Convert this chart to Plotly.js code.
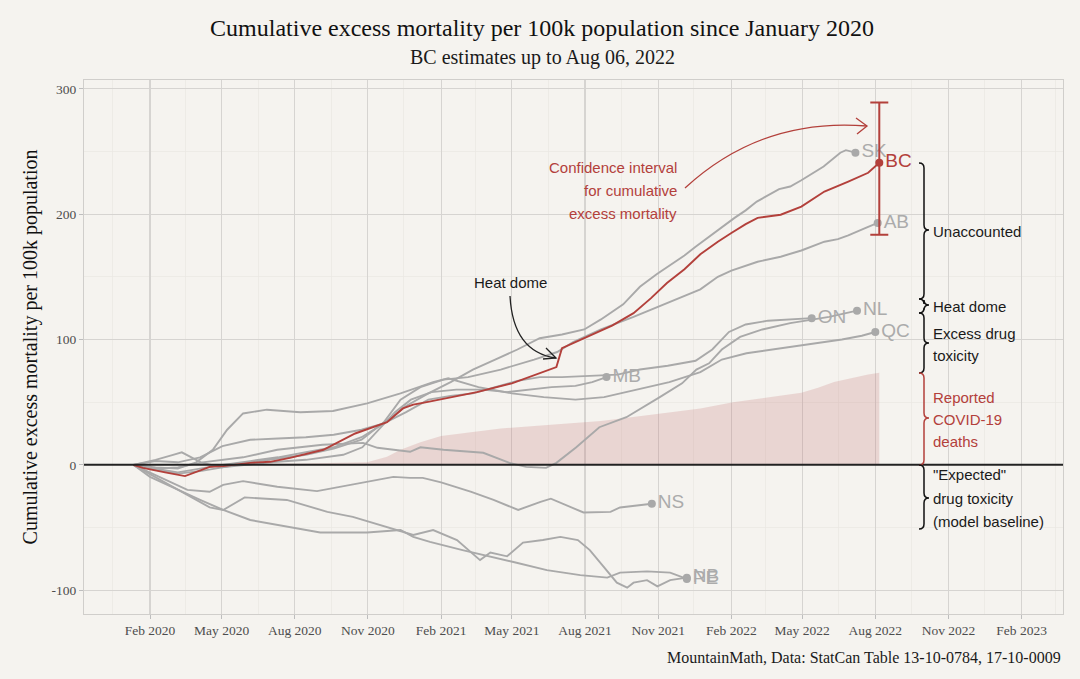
<!DOCTYPE html>
<html><head><meta charset="utf-8">
<script src="https://cdn.plot.ly/plotly-3.0.1.min.js"></script>
<style>html,body{margin:0;padding:0;background:#F5F3EF;} #chart{width:1080px;height:679px;}</style>
</head><body><div id="chart"></div>
<script>
// ---------------- DATA ----------------
const bcDates = ['2020-01-11','2020-01-23','2020-02-20','2020-03-16','2020-04-16','2020-05-03','2020-06-06','2020-07-01','2020-07-26','2020-09-06','2020-10-16','2020-11-25','2020-12-15','2020-12-28','2021-01-14','2021-02-12','2021-03-18','2021-05-01','2021-06-05','2021-06-22','2021-06-26','2021-07-03','2021-07-17','2021-08-11','2021-09-04','2021-10-01','2021-10-23','2021-11-12','2021-12-04','2021-12-24','2022-01-15','2022-02-01','2022-02-19','2022-03-06','2022-04-04','2022-04-30','2022-05-29','2022-06-28','2022-07-23','2022-08-06'];
const bcValues = [0,-2.4,-6,-9,-1.6,-1,1.6,2.4,5.6,12,25,34,45,48,50,53.5,58,65,73,76.6,78,93,97,104,111,121,133,145,156,168,178,185,192,197,199.5,206,218,226,233,241];
const bcCI = [183.5, 289];

const covidDates = ['2020-01-11','2020-03-15','2020-05-15','2020-08-08','2020-10-31','2020-11-25','2020-12-12','2021-01-06','2021-02-01','2021-03-07','2021-04-17','2021-06-19','2021-08-21','2021-10-23','2021-12-24','2022-02-03','2022-03-18','2022-04-30','2022-05-21','2022-06-10','2022-07-23','2022-08-06'];
const covidValues = [0,0,0.8,1,2,6.4,12,18,23,25.5,29,32,35,40,45,50,54,57.5,61.5,66,72,73.4];

const skDates = ['2020-01-11','2020-02-08','2020-03-07','2020-04-04','2020-05-02','2020-06-06','2020-07-11','2020-08-15','2020-09-19','2020-10-24','2020-11-21','2020-12-19','2021-01-16','2021-02-13','2021-03-13','2021-04-10','2021-05-08','2021-06-05','2021-07-03','2021-07-31','2021-08-21','2021-09-18','2021-10-09','2021-10-30','2021-11-20','2021-12-04','2021-12-18','2022-01-08','2022-02-05','2022-02-19','2022-03-05','2022-04-02','2022-04-16','2022-04-30','2022-05-28','2022-06-18','2022-06-25','2022-07-07'];
const skValues = [0,-3,-6,-3,0,3,6,10,14,22,33,47,57,66,76,84,92,101,104,108,116,128,142,152,161,167,174,184,197,203,210,220,222,227,238,249,251,249];

const abDates = ['2020-01-11','2020-02-08','2020-03-07','2020-04-04','2020-05-02','2020-06-06','2020-07-11','2020-08-15','2020-09-19','2020-10-24','2020-11-21','2020-12-12','2021-01-06','2021-02-04','2021-03-07','2021-04-17','2021-05-29','2021-06-27','2021-07-17','2021-08-21','2021-10-01','2021-11-12','2021-12-24','2022-01-15','2022-02-01','2022-03-06','2022-04-04','2022-04-30','2022-05-29','2022-06-15','2022-06-28','2022-07-20','2022-08-04'];
const abValues = [0,-4,-7,-5,-2,2,5,8,13,20,34,52,62,68,70,76,84,90,98,108,118,129,140,150,155,162,166,171,178,180,183,189,193];

const qcDates = ['2020-01-11','2020-02-08','2020-03-07','2020-03-30','2020-04-20','2020-05-08','2020-05-28','2020-06-27','2020-08-08','2020-09-18','2020-10-31','2020-12-12','2021-01-22','2021-02-10','2021-03-20','2021-05-01','2021-06-10','2021-07-20','2021-08-25','2021-10-05','2021-11-15','2021-12-24','2022-01-20','2022-02-20','2022-04-04','2022-05-13','2022-06-20','2022-07-15','2022-08-01'];
const qcValues = [0,-2,-3,2,12,28,41,44,42,43,49,57,66,69,62,57,54,52,54,60,66,74,84,89,93,97,100,103,106];

const onDates = ['2020-01-11','2020-02-08','2020-03-07','2020-04-04','2020-05-02','2020-06-06','2020-07-11','2020-08-15','2020-09-19','2020-10-24','2020-11-21','2020-12-19','2021-01-16','2021-02-13','2021-03-13','2021-04-10','2021-05-08','2021-06-05','2021-07-03','2021-08-07','2021-09-11','2021-10-09','2021-11-13','2021-12-18','2022-01-08','2022-01-29','2022-02-19','2022-03-19','2022-04-16','2022-05-13'];
const onValues = [0,3,2,6,15,20,21,22,24,28,33,42,52,55,57,62,67,70,70,71,72,76,79,83,92,106,112,115,116,117];

const nlDates = ['2020-01-11','2020-02-08','2020-03-07','2020-04-07','2020-05-28','2020-07-10','2020-09-05','2020-10-26','2020-11-13','2020-12-03','2020-12-24','2021-01-06','2021-02-04','2021-03-26','2021-04-28','2021-05-19','2021-06-13','2021-06-26','2021-07-21','2021-08-19','2021-09-22','2021-11-03','2021-12-01','2021-12-19','2022-01-04','2022-01-20','2022-02-12','2022-03-12','2022-04-16','2022-06-04','2022-07-09'];
const nlValues = [0,-3,-2,2,6,12,16,17.5,13.6,12,10.4,14,12,9.6,1.6,-1.6,-2.4,1.6,14,30,38,54,65,76,81,92,102,108,113,118,123];

const mbDates = ['2020-01-11','2020-02-08','2020-03-01','2020-03-12','2020-04-05','2020-05-01','2020-06-01','2020-07-01','2020-08-15','2020-10-01','2020-10-25','2020-11-15','2020-12-05','2020-12-25','2021-01-20','2021-02-20','2021-03-25','2021-04-25','2021-05-25','2021-06-20','2021-07-20','2021-08-10','2021-08-28'];
const mbValues = [0,4,8,10,2,-2,0,2,4,8,14,28,42,52,58,60,60,58,60,62,63,66,70];

const nsDates = ['2020-01-11','2020-02-14','2020-03-19','2020-04-16','2020-05-03','2020-05-28','2020-07-10','2020-08-29','2020-10-26','2020-12-03','2020-12-24','2021-01-09','2021-02-01','2021-03-11','2021-04-08','2021-05-09','2021-06-06','2021-06-19','2021-07-30','2021-09-02','2021-09-14','2021-10-24'];
const nsValues = [0,-10,-20,-21.5,-16,-13,-17.5,-21,-14,-9.6,-10.4,-10.4,-14,-21.5,-28,-36,-29.5,-27,-38,-37.5,-34,-31];

const nbDates = ['2020-01-11','2020-03-14','2020-04-16','2020-05-03','2020-05-30','2020-07-22','2020-09-11','2020-10-13','2020-11-25','2020-12-28','2021-01-22','2021-02-21','2021-03-22','2021-04-04','2021-04-25','2021-05-15','2021-06-09','2021-07-01','2021-07-23','2021-08-07','2021-08-24','2021-09-10','2021-09-23','2021-10-01','2021-10-18','2021-10-31','2021-11-16','2021-12-07'];
const nbValues = [0,-22,-34,-36,-26,-28,-37.5,-41.5,-50,-56,-52,-60,-76,-70,-73,-62,-60,-57.5,-60,-68,-81,-94,-98,-94,-92,-97,-92,-90];

const peDates = ['2020-01-11','2020-02-01','2020-04-04','2020-05-03','2020-06-06','2020-07-22','2020-09-02','2020-10-31','2020-12-12','2020-12-28','2021-01-18','2021-02-28','2021-04-04','2021-05-03','2021-06-14','2021-07-26','2021-08-29','2021-09-14','2021-10-18','2021-11-16','2021-12-07'];
const peValues = [0,-9.6,-28,-36,-44,-49.5,-54,-54,-52,-57.5,-61.5,-68,-73,-77.5,-84,-88,-90,-86,-85,-86,-91];

const greyNames = ['SK','AB','QC','ON','NL','MB','NS','NB','PE'];
const yTickVals = [-100, 0, 100, 200, 300];
const yTickText = ['-100', '0', '100', '200', '300'];

// ---------------- STYLE ----------------
const BG = '#F5F3EF';
const RED = '#B3403B';
const GREY = '#A9A9A9';
const SERIF = 'Liberation Serif, Times New Roman, serif';
const SANS = 'Liberation Sans, Arial, sans-serif';

const greySeries = {
  SK: [skDates, skValues], AB: [abDates, abValues], QC: [qcDates, qcValues],
  ON: [onDates, onValues], NL: [nlDates, nlValues], MB: [mbDates, mbValues],
  NS: [nsDates, nsValues], NB: [nbDates, nbValues], PE: [peDates, peValues]
};

const traces = [];
traces.push({x: covidDates, y: covidValues, type: 'scatter', mode: 'lines', fill: 'tozeroy',
  fillcolor: 'rgba(190,110,110,0.22)', line: {width: 0, color: 'rgba(0,0,0,0)'}, hoverinfo: 'skip', showlegend: false});
greyNames.forEach(n => {
  const [d, v] = greySeries[n];
  traces.push({x: d, y: v, type: 'scatter', mode: 'lines', line: {color: GREY, width: 1.9}, hoverinfo: 'skip', showlegend: false});
});
traces.push({x: bcDates, y: bcValues, type: 'scatter', mode: 'lines', line: {color: RED, width: 1.9}, hoverinfo: 'skip', showlegend: false});
traces.push({
  x: greyNames.map(n => greySeries[n][0][greySeries[n][0].length - 1]),
  y: greyNames.map(n => greySeries[n][1][greySeries[n][1].length - 1]),
  text: greyNames, type: 'scatter', mode: 'markers+text', textposition: 'middle right',
  marker: {color: GREY, size: 8}, textfont: {family: SANS, size: 19, color: '#ABABAB'},
  hoverinfo: 'skip', showlegend: false, cliponaxis: false
});
const bcLast = bcValues[bcValues.length - 1];
traces.push({
  x: [bcDates[bcDates.length - 1]], y: [bcLast], text: ['BC'],
  type: 'scatter', mode: 'markers+text', textposition: 'middle right',
  marker: {color: RED, size: 8}, textfont: {family: SANS, size: 19, color: RED},
  error_y: {type: 'data', symmetric: false, array: [bcCI[1] - bcLast], arrayminus: [bcLast - bcCI[0]],
            color: RED, thickness: 2, width: 9},
  hoverinfo: 'skip', showlegend: false, cliponaxis: false
});

// pixel -> paper helpers for annotations / decorations
const PL = 84, PR = 1063, PT = 80, PB = 614;
const px = x => (x - PL) / (PR - PL);
const py = y => (PB - y) / (PB - PT);
const P = (x, y) => px(x).toFixed(5) + ',' + py(y).toFixed(5);

function brace(y1, y2, ym) {
  const x0 = 919, xm = 924, xt = 929, r = 5;
  return 'M' + P(x0, y1) + ' Q' + P(xm, y1) + ' ' + P(xm, y1 + r) +
    ' L' + P(xm, ym - r) + ' Q' + P(xm, ym) + ' ' + P(xt, ym) +
    ' Q' + P(xm, ym) + ' ' + P(xm, ym + r) +
    ' L' + P(xm, y2 - r) + ' Q' + P(xm, y2) + ' ' + P(x0, y2);
}

const shapes = [
  {type: 'line', xref: 'paper', x0: 0, x1: 1, yref: 'y', y0: 0, y1: 0, line: {color: '#222', width: 2}, layer: 'above'},
  {type: 'path', xref: 'paper', yref: 'paper', path: 'M' + P(510, 296) + ' Q' + P(513, 352) + ' ' + P(556, 358), line: {color: '#222', width: 1.3}},
  {type: 'path', xref: 'paper', yref: 'paper', path: 'M' + P(543, 359) + ' L' + P(556, 358) + ' L' + P(546, 348), line: {color: '#222', width: 1.3}},
  {type: 'path', xref: 'paper', yref: 'paper', path: 'M' + P(685, 188) + ' C' + P(735, 142) + ' ' + P(795, 120) + ' ' + P(867, 126), line: {color: RED, width: 1.3}},
  {type: 'path', xref: 'paper', yref: 'paper', path: 'M' + P(856, 118) + ' L' + P(867, 126) + ' L' + P(857, 134), line: {color: RED, width: 1.3}},
  {type: 'path', xref: 'paper', yref: 'paper', path: brace(163, 299, 230), line: {color: '#111', width: 1.5}},
  {type: 'path', xref: 'paper', yref: 'paper', path: brace(299, 313, 305), line: {color: '#111', width: 1.5}},
  {type: 'path', xref: 'paper', yref: 'paper', path: brace(313, 373, 343), line: {color: '#111', width: 1.5}},
  {type: 'path', xref: 'paper', yref: 'paper', path: brace(373, 465, 418), line: {color: RED, width: 1.5}},
  {type: 'path', xref: 'paper', yref: 'paper', path: brace(465, 529, 498), line: {color: '#111', width: 1.5}}
];

function ann(x, y, text, opts) {
  return Object.assign({xref: 'paper', yref: 'paper', x: px(x), y: py(y), text: text, showarrow: false,
    xanchor: 'left', yanchor: 'middle', font: {family: SANS, size: 15, color: '#1a1a1a'}}, opts || {});
}
const annotations = [
  ann(542, 58, 'BC estimates up to Aug 06, 2022', {xanchor: 'center', font: {family: SERIF, size: 20, color: '#1a1a1a'}}),
  ann(1063, 657, 'MountainMath, Data: StatCan Table 13-10-0784, 17-10-0009', {xanchor: 'right', font: {family: SERIF, size: 16, color: '#1a1a1a'}}),
  ann(510, 282, 'Heat dome', {xanchor: 'center'}),
  ann(679, 168, 'Confidence interval', {xanchor: 'right', font: {family: SANS, size: 15, color: RED}}),
  ann(679, 191, 'for cumulative', {xanchor: 'right', font: {family: SANS, size: 15, color: RED}}),
  ann(679, 213, 'excess mortality', {xanchor: 'right', font: {family: SANS, size: 15, color: RED}}),
  ann(931, 231, 'Unaccounted'),
  ann(931, 306, 'Heat dome'),
  ann(931, 333, 'Excess drug'),
  ann(931, 355, 'toxicity'),
  ann(931, 397, 'Reported', {font: {family: SANS, size: 15, color: RED}}),
  ann(931, 419, 'COVID-19', {font: {family: SANS, size: 15, color: RED}}),
  ann(931, 441, 'deaths', {font: {family: SANS, size: 15, color: RED}}),
  ann(931, 475, '"Expected"'),
  ann(931, 498, 'drug toxicity'),
  ann(931, 521, '(model baseline)')
];

const layout = {
  width: 1080, height: 679,
  margin: {l: PL, r: 1080 - PR, t: PT, b: 679 - PB},
  paper_bgcolor: BG, plot_bgcolor: BG,
  showlegend: false,
  title: {text: 'Cumulative excess mortality per 100k population since January 2020',
          x: 542 / 1080, xref: 'container', xanchor: 'center', y: 1 - 28 / 679, yref: 'container', yanchor: 'middle',
          font: {family: SERIF, size: 24, color: '#111'}},
  xaxis: {type: 'date', range: ['2019-11-10', '2023-03-25'], tick0: '2020-02-01', dtick: 'M3', tickformat: '%b %Y',
          showgrid: true, gridcolor: '#D6D4D1', gridwidth: 1.1, zeroline: false,
          ticks: 'outside', ticklen: 4, tickcolor: '#BDBDBD', tickwidth: 1,
          showline: true, mirror: true, linecolor: '#D0CECB', linewidth: 1,
          tickfont: {family: SERIF, size: 13.5, color: '#4D4D4D'},
          minor: {tick0: '2019-12-16', dtick: 'M3', showgrid: true, gridcolor: '#E9E7E3', gridwidth: 0.7}},
  yaxis: {range: [-119, 307], tickmode: 'array', tickvals: yTickVals, ticktext: yTickText,
          showgrid: true, gridcolor: '#D6D4D1', gridwidth: 1.1, zeroline: false,
          ticks: 'outside', ticklen: 4, tickcolor: '#BDBDBD', tickwidth: 1,
          showline: true, mirror: true, linecolor: '#D0CECB', linewidth: 1,
          tickfont: {family: SERIF, size: 13.5, color: '#4D4D4D'},
          title: {text: 'Cumulative excess mortality per 100k population', standoff: 8,
                  font: {family: SERIF, size: 20, color: '#111'}},
          minor: {tick0: -50, dtick: 50, showgrid: true, gridcolor: '#E9E7E3', gridwidth: 0.7}},
  shapes: shapes,
  annotations: annotations
};

Plotly.newPlot('chart', traces, layout, {displayModeBar: false, staticPlot: true});
</script></body></html>
